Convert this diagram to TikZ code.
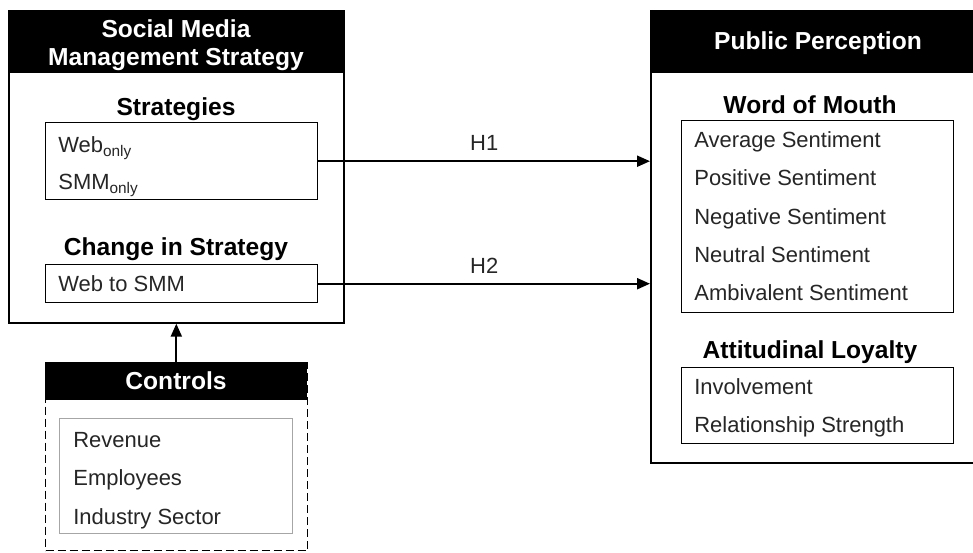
\documentclass[tikz,border=0pt]{standalone}
\usepackage{fontspec}
\setmainfont{Liberation Sans}
\usetikzlibrary{arrows.meta,positioning}

\begin{document}
\begin{tikzpicture}[x=0.02cm,y=-0.02cm,>={Triangle[length=2.6mm,width=2.2mm]},
  panel/.style={draw,line width=1pt,fill=white,anchor=north west,inner sep=0pt},
  head/.style={fill=black,anchor=north west,inner sep=0pt},
  headtext/.style={text=white,font=\fontsize{14}{15.6}\selectfont\bfseries,align=center,inner sep=0pt},
  group/.style={font=\fontsize{14}{16}\selectfont\bfseries,inner sep=0pt,text height=10pt,text depth=0pt},
  listbox/.style={draw,line width=0.8pt,minimum width=5.44cm,anchor=north west,inner sep=0pt},
  item/.style={anchor=west,font=\fontsize{12.5}{14}\selectfont,text=black!85,inner sep=0pt,text height=9pt,text depth=0pt},
  link/.style={->,line width=1.2pt}]
\useasboundingbox (0,0) rectangle (973,552);
% management strategy
\node[panel,minimum width=6.7cm,minimum height=6.24cm] (smm) at (8,10) {};
\node[head,minimum width=6.7cm,minimum height=1.26cm] (smmhead) at (8,10) {};
\node[headtext] (smmtitle) at (176,45) {Social Media\\Management Strategy};
\node[group] (strattitle) at (176,107) {Strategies};
\node[listbox,minimum height=1.54cm] (strat) at (45,122) {};
\node[item] (webonly) at (58,145) {Web\textsubscript{only}};
\node[item] (smmonly) at (58,182) {SMM\textsubscript{only}};
\node[group] (changetitle) at (176,247) {Change in Strategy};
\node[listbox,minimum height=0.76cm] (change) at (45,264) {};
\node[item] (webtosmm) at (58,284) {Web to SMM};
% public perception
\node[panel,minimum width=6.52cm,minimum height=9.04cm] (pp) at (650,10) {};
\node[head,minimum width=6.52cm,minimum height=1.26cm] (pphead) at (650,10) {};
\node[headtext] (pptitle) at (818,43) {Public Perception};
\node[group] (womtitle) at (810,105) {Word of Mouth};
\node[listbox,minimum height=3.84cm] (wom) at (681,120) {};
\node[item] (avg) at (694,140) {Average Sentiment};
\node[item] (pos) at (694,178) {Positive Sentiment};
\node[item] (neg) at (694,217) {Negative Sentiment};
\node[item] (neu) at (694,255) {Neutral Sentiment};
\node[item] (amb) at (694,293) {Ambivalent Sentiment};
\node[group] (loyaltitle) at (810,350) {Attitudinal Loyalty};
\node[listbox,minimum height=1.52cm] (loyal) at (681,367) {};
\node[item] (invol) at (694,387) {Involvement};
\node[item] (relat) at (694,425) {Relationship Strength};
% controls
\node[panel,dash pattern=on 1.6mm off 0.8mm,line width=0.8pt,minimum width=5.24cm,minimum height=3.76cm] (ctrl) at (45,362) {};
\node[head,minimum width=5.24cm,minimum height=0.76cm] (ctrlhead) at (45,362) {};
\node[headtext] (ctrltitle) at (176,381) {Controls};
\node[draw=gray!70,line width=0.8pt,minimum width=4.66cm,minimum height=2.3cm,anchor=north west,inner sep=0pt] (ctrllist) at (59,418) {};
\node[item] (revenue) at (73,440) {Revenue};
\node[item] (employees) at (73,478) {Employees};
\node[item] (sector) at (73,517) {Industry Sector};
% hypotheses
\draw[link] (strat.east) -- (strat.east -| pp.west) node[midway,above=2pt,font=\fontsize{12.5}{14}\selectfont,text=black!85,text height=9pt,text depth=0pt] (h1) {H1};
\draw[link] (change.east) -- (change.east -| pp.west) node[midway,above=2pt,font=\fontsize{12.5}{14}\selectfont,text=black!85,text height=9pt,text depth=0pt] (h2) {H2};
\draw[link] (ctrlhead.north) -- (ctrlhead.north |- smm.south);
\end{tikzpicture}
\end{document}
